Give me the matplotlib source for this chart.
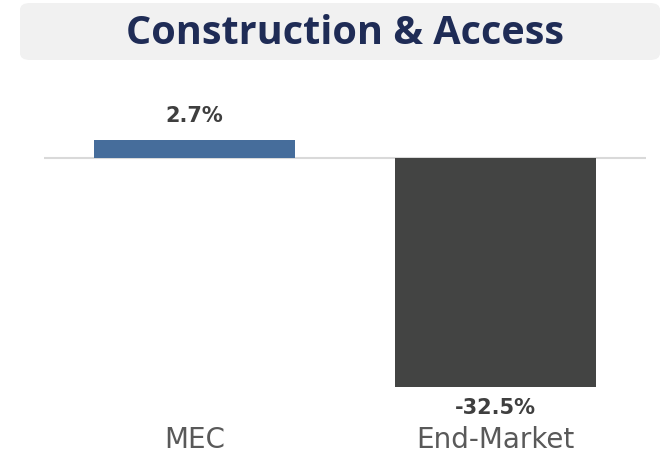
import matplotlib
matplotlib.use("Agg")
import matplotlib.pyplot as plt
from matplotlib.patches import FancyBboxPatch
from matplotlib.transforms import blended_transform_factory

categories = ["MEC", "End-Market"]
values = [2.7, -32.5]
value_labels = ["2.7%", "-32.5%"]
bar_colors = ["#466D9B", "#434443"]
title = "Construction & Access"

W, H = 664, 454
fig = plt.figure(figsize=(W / 100, H / 100), dpi=100)
fig.patch.set_facecolor("white")

# rounded title banner
banner = FancyBboxPatch((20 / W, (H - 60) / H), (660 - 20) / W, 57 / H,
                        boxstyle="round,pad=0,rounding_size=0.015",
                        transform=fig.transFigure, facecolor="#F1F1F1",
                        edgecolor="none", zorder=0)
fig.patches.append(banner)
fig.text(345 / W, (H - 44.5) / H, title, ha="center", va="baseline",
         fontsize=28.5, fontweight="bold", color="#1F2C56", family="Open Sans")

# plotting area
ax = fig.add_axes([44 / W, (H - 400) / H, (646 - 44) / W, 300 / H])
ax.set_xlim(-0.5, 1.5)
ax.set_ylim(-34.35, 8.32)
ax.axis("off")

x = list(range(len(categories)))
ax.bar(x, values, width=0.667, color=bar_colors, zorder=2)
ax.axhline(0, color="#D9D9D9", lw=1.5, zorder=1)

# value labels: baseline above positive bars, below negative bars
for xi, v, lab in zip(x, values, value_labels):
    off = 12.6 if v >= 0 else -19.4
    ax.annotate(lab, (xi, v), xytext=(0, off), textcoords="offset points",
                ha="center", va="baseline", fontsize=15, fontweight="bold",
                color="#3F3F3F", family="DejaVu Sans")

trans = blended_transform_factory(ax.transData, fig.transFigure)
for xi, c in zip(x, categories):
    ax.text(xi, (H - 448) / H, c, transform=trans, ha="center", va="baseline",
            fontsize=20, color="#595959", family="DejaVu Sans")

fig.savefig("out.png", dpi=100)
